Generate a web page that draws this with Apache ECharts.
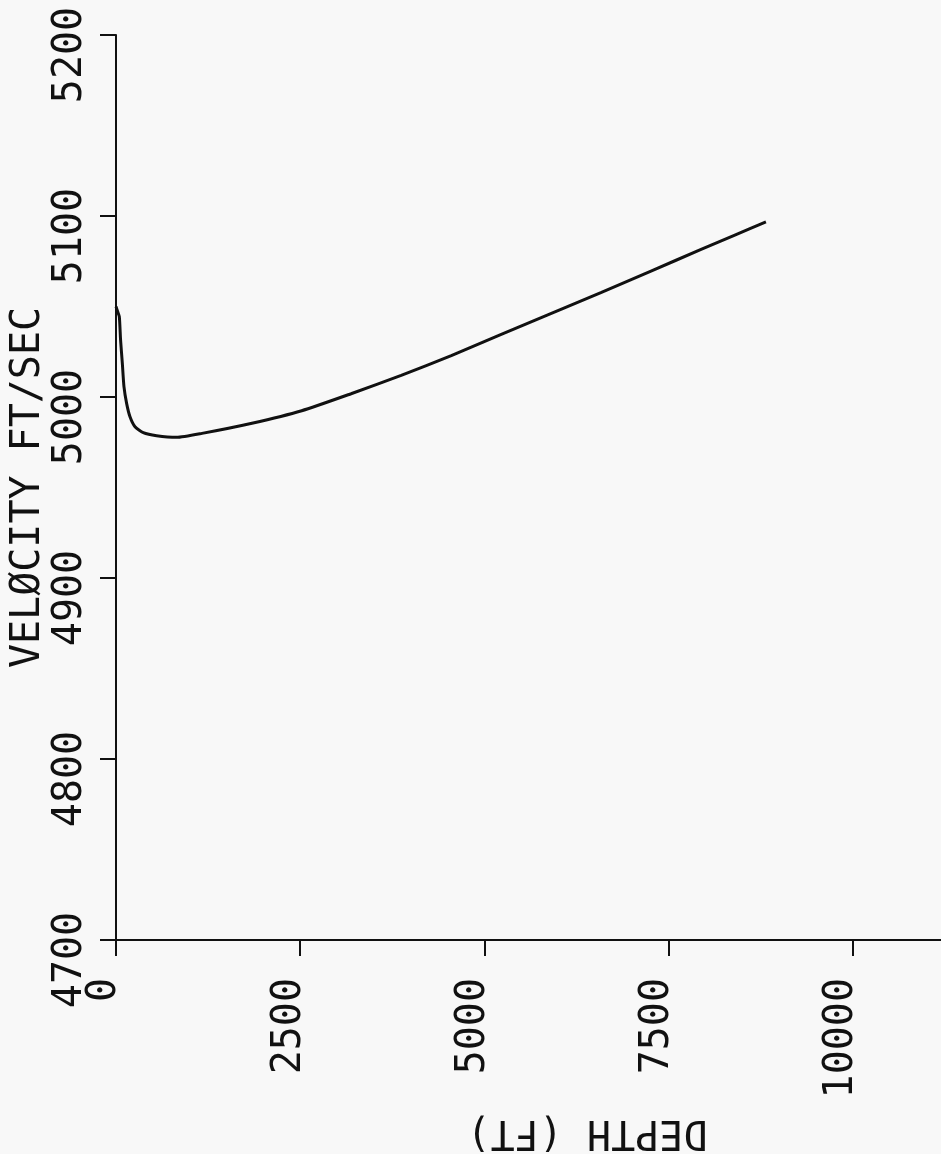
<!DOCTYPE html>
<html>
<head>
<meta charset="utf-8">
<title>Velocity vs depth</title>
<script src="https://cdn.jsdelivr.net/npm/echarts@6/dist/echarts.min.js"></script>
<style>
  html, body { margin: 0; padding: 0; background: #f8f8f8; }
  #chart { width: 941px; height: 1154px; }
</style>
</head>
<body>
<div id="chart"></div>
<script>
// sound velocity profile
var depthFt = [0, 20, 45, 62, 86, 108, 144, 190, 258, 370, 551, 822, 1167, 1845, 2520, 3190, 3870, 4550, 5220, 5900, 6580, 7260, 7940, 8390, 8820];
var velocityFtSec = [5050, 5047.5, 5044.4, 5031.5, 5018.6, 5005.7, 4996.5, 4989.1, 4983.6, 4980.3, 4978.6, 4977.7, 4979.9, 4985.5, 4992.4, 5001.8, 5011.9, 5022.9, 5034.5, 5046.1, 5057.7, 5069.6, 5081.5, 5089.3, 5096.7];

var depthTicks = { min: 0, max: 11250, step: 2500 };
var velocityTicks = { min: 4700, max: 5200, step: 100 };

var ink = '#111';
var plotFont = 'DejaVu Sans Mono';

var points = [];
for (var i = 0; i < depthFt.length; i++) {
    points.push([depthFt[i], velocityFtSec[i]]);
}

// plotter labels have no thousands separator
function plain(v) {
    return String(v);
}

var myChart = echarts.init(document.getElementById('chart'));

option = {
    backgroundColor: '#f8f8f8',
    animation: false,
    grid: {
        left: 116,
        right: -4,
        top: 35,
        bottom: 214,
        outerBoundsMode: 'none'
    },
    xAxis: {
        type: 'value',
        min: depthTicks.min,
        max: depthTicks.max,
        interval: depthTicks.step,
        name: 'DEPTH (FT)',
        nameLocation: 'middle',
        nameRotate: 180,
        nameGap: 171,
        nameMoveOverlap: false,
        nameTextStyle: {
            color: ink,
            fontFamily: plotFont,
            fontSize: 40,
            padding: [0, 113, 0, 0]
        },
        axisLine: { lineStyle: { color: ink, width: 2 } },
        axisTick: { length: 16, lineStyle: { color: ink, width: 2 } },
        splitLine: { show: false },
        axisLabel: {
            rotate: 90,
            margin: 38,
            color: ink,
            fontFamily: plotFont,
            fontSize: 40,
            lineHeight: 22,
            verticalAlign: 'bottom',
            showMaxLabel: false,
            formatter: plain
        }
    },
    yAxis: {
        type: 'value',
        min: velocityTicks.min,
        max: velocityTicks.max,
        interval: velocityTicks.step,
        name: 'VELØCITY FT/SEC',
        nameLocation: 'middle',
        nameRotate: 90,
        nameGap: 67,
        nameMoveOverlap: false,
        nameTextStyle: {
            color: ink,
            fontFamily: plotFont,
            fontSize: 40
        },
        axisLine: { show: true, lineStyle: { color: ink, width: 2 } },
        axisTick: { show: true, length: 16, lineStyle: { color: ink, width: 2 } },
        splitLine: { show: false },
        axisLabel: {
            rotate: 90,
            margin: 25,
            color: ink,
            fontFamily: plotFont,
            fontSize: 40,
            padding: [0, 40, 0, 0],
            formatter: plain
        }
    },
    series: [
        {
            type: 'line',
            data: points,
            showSymbol: false,
            smooth: 0.2,
            lineStyle: { color: ink, width: 3 }
        }
    ]
};
myChart.setOption(option);
</script>
</body>
</html>
